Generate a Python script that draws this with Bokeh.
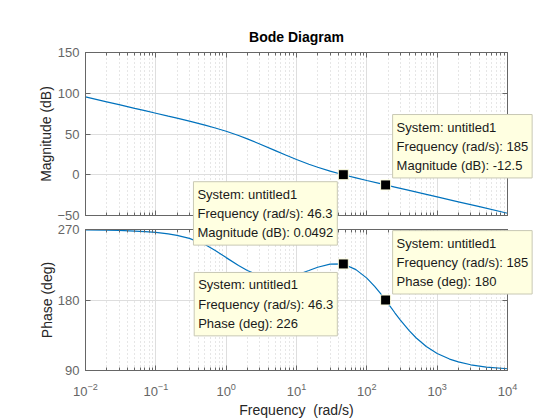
import math
from bokeh.plotting import figure
from bokeh.layouts import column
from bokeh.models import (LogAxis, LinearAxis, Label, FixedTicker, Range1d)
from bokeh.embed import file_html
from bokeh.resources import INLINE

# ---------------- data ----------------
freq_mag = [0.01, 0.02, 0.03, 0.05, 0.07, 0.1, 0.15, 0.2, 0.3, 0.5, 0.7, 1, 1.5, 2, 3, 5, 7,
            10, 15, 20, 30, 46.3, 70, 100, 150, 185, 250, 400, 700, 1000, 2000, 4000, 10000]
mag_db = [95.5, 89.5, 86.0, 81.5, 78.6, 75.5, 71.9, 69.4, 65.7, 60.9, 57.4, 53.4, 48.1, 44.0,
          37.8, 29.6, 24.2, 18.7, 12.9, 9.2, 4.5, 0.0492, -3.8, -7.1, -10.6, -12.5, -15.1,
          -19.2, -24.1, -27.2, -33.2, -39.2, -47.2]

freq_phase = [0.01, 0.02, 0.03, 0.05, 0.07, 0.1, 0.15, 0.2, 0.3, 0.5, 0.7, 1, 1.5, 2, 3, 5, 7,
              10, 15, 20, 30, 46.3, 70, 100, 130, 150, 185, 220, 250, 300, 400, 500, 700,
              1000, 1500, 2000, 3000, 5000, 10000]
phase_deg = [269.6, 269.2, 268.8, 268.0, 267.2, 266.3, 264.5, 262.5, 258.6, 250.8, 243.3,
             234.1, 224.0, 217.6, 210.9, 207.6, 208.5, 211.9, 217.6, 221.8, 225.8, 226.0,
             218.8, 207.9, 197.1, 190.3, 180.0, 170.5, 163.7, 154.4, 140.9, 131.8, 120.6,
             111.7, 104.6, 101.0, 97.3, 94.4, 92.2]

tip_freq = [46.3, 185]
tip_mag = [0.0492, -12.5]
tip_phase = [226, 180]
system_name = "untitled1"

x_range_lim = [1e-2, 1e4]
mag_range_lim = [-50, 150]
phase_range_lim = [90, 270]
x_ticks = [1e-2, 1e-1, 1e0, 1e1, 1e2, 1e3, 1e4]
mag_ticks = [-50, 0, 50, 100, 150]
phase_ticks = [90, 180, 270]

title_text = "Bode Diagram"
mag_label = "Magnitude (dB)"
phase_label = "Phase (deg)"
freq_label = "Frequency \u00a0(rad/s)"

# ---------------- style / layout ----------------
FONT = "Liberation Sans"
AXC = "#666666"
LBLC = "#262626"
LINEC = "#0072bd"
W, H = 560, 420
LEFT, RIGHT = 85, 53
MAG_TOP, MAG_BOT = 52, 205
PH_TOP, PH_BOT = 229, 48
minor_x = [m * 10.0 ** e for e in range(-2, 4) for m in range(2, 10)]


def make_fig(yr, top, bottom):
    return figure(width=W, height=H, x_axis_type="log", x_range=Range1d(*x_range_lim),
                  y_range=Range1d(*yr), output_backend="svg", toolbar_location=None,
                  min_border_left=LEFT, min_border_right=RIGHT, min_border_top=top,
                  min_border_bottom=bottom, outline_line_color=AXC,
                  background_fill_color="white", frame_align=False)


def style_axis(ax, show_labels, ticker, minor):
    ax.ticker = ticker
    ax.axis_line_color = AXC
    ax.major_tick_line_color = AXC
    ax.minor_tick_line_color = AXC if minor else None
    ax.major_tick_in = 5
    ax.major_tick_out = 0
    ax.minor_tick_in = 3
    ax.minor_tick_out = 0
    ax.major_label_text_font = FONT
    ax.major_label_text_color = AXC
    ax.major_label_text_font_size = "13px"
    ax.axis_label_text_font = FONT
    ax.axis_label_text_color = LBLC
    ax.axis_label_text_font_style = "normal"
    ax.axis_label_text_font_size = "14px"
    if not show_labels:
        ax.major_label_text_alpha = 0
        ax.major_label_standoff = 0


def build(p, yticks, ylabel, show_x_labels, xlabel):
    xt = FixedTicker(ticks=x_ticks, minor_ticks=minor_x)
    yt = FixedTicker(ticks=yticks, minor_ticks=[])
    style_axis(p.xaxis[0], show_x_labels, xt, True)
    style_axis(p.yaxis[0], True, yt, False)
    p.xaxis[0].major_label_standoff = 12 if show_x_labels else 0
    p.yaxis[0].major_label_standoff = 6
    p.yaxis[0].axis_label = ylabel
    p.yaxis[0].axis_label_standoff = 0
    if xlabel:
        p.xaxis[0].axis_label = xlabel
        p.xaxis[0].axis_label_standoff = 3
    top_ax = LogAxis()
    style_axis(top_ax, False, FixedTicker(ticks=x_ticks, minor_ticks=minor_x), True)
    p.add_layout(top_ax, "above")
    right_ax = LinearAxis()
    style_axis(right_ax, False, FixedTicker(ticks=yticks, minor_ticks=[]), False)
    p.add_layout(right_ax, "right")
    p.xgrid.ticker = xt
    p.ygrid.ticker = yt
    p.xgrid.grid_line_color = "#dedede"
    p.xgrid.minor_grid_line_color = "#cccccc"
    p.xgrid.minor_grid_line_dash = "1 3"
    p.ygrid.grid_line_color = "#dedede"


# ---------------- phase (bottom layer) ----------------
pp = make_fig(phase_range_lim, PH_TOP, PH_BOT)
pp.border_fill_color = "white"
build(pp, phase_ticks, phase_label, True, freq_label)
pp.line(freq_phase, phase_deg, line_color=LINEC, line_width=1.2)
pp.scatter(tip_freq, tip_phase, marker="square", size=10, fill_color="black",
           line_color="#ffffe1", line_width=1)

# ---------------- magnitude (middle layer, transparent border) ----------------
pm = make_fig(mag_range_lim, MAG_TOP, MAG_BOT)
pm.border_fill_alpha = 0
build(pm, mag_ticks, mag_label, False, None)
pm.title.text = title_text
pm.title.align = "center"
pm.title.text_font = FONT
pm.title.text_font_size = "14px"
pm.title.text_font_style = "bold"
pm.title.text_color = "black"
pm.title.standoff = 15
pm.line(freq_mag, mag_db, line_color=LINEC, line_width=1.2)
pm.scatter(tip_freq, tip_mag, marker="square", size=10, fill_color="black",
           line_color="#ffffe1", line_width=1)

# ---------------- data-tip layer (whole window is its frame, so no clipping) ----------------
decades = math.log10(x_range_lim[1] / x_range_lim[0])
ppd = (W - LEFT - RIGHT) / decades
ov_x = Range1d(x_range_lim[0] / 10 ** (LEFT / ppd), x_range_lim[1] * 10 ** (RIGHT / ppd))
k_mag = (H - MAG_TOP - MAG_BOT) / (mag_range_lim[1] - mag_range_lim[0])
ov_mag = Range1d(mag_range_lim[0] - MAG_BOT / k_mag, mag_range_lim[1] + MAG_TOP / k_mag)
k_ph = (H - PH_TOP - PH_BOT) / (phase_range_lim[1] - phase_range_lim[0])
ov_ph = Range1d(phase_range_lim[0] - PH_BOT / k_ph, phase_range_lim[1] + PH_TOP / k_ph)

po = figure(width=W, height=H, x_axis_type="log", x_range=ov_x, y_range=ov_mag,
            output_backend="svg", toolbar_location=None, min_border=0,
            x_axis_location=None, y_axis_location=None, outline_line_color=None,
            background_fill_alpha=0, border_fill_alpha=0, frame_align=False)
po.grid.visible = False
po.extra_y_ranges = {"phase": ov_ph}


def tip(x, y, lines, anchor, xo, yo, yname="default"):
    po.add_layout(Label(x=x, y=y, y_range_name=yname, text="\n".join(lines), anchor=anchor,
                        x_offset=xo, y_offset=yo, text_align="left",
                        text_font=FONT, text_font_size="13px", text_color="#1a1a1a",
                        text_line_height=1.28, padding=(4, 5),
                        background_fill_color="#ffffe1", border_line_color="#c8c8b4",
                        border_line_width=1))


for f, v, anc, xo, yo in zip(tip_freq, tip_mag, ["top_right", "bottom_left"], [-6, 7], [-7, 7]):
    tip(f, v, [f"System: {system_name}", f"Frequency (rad/s): {f:g}",
               f"Magnitude (dB): {v:g}"], anc, xo, yo)
for f, v, anc, xo, yo in zip(tip_freq, tip_phase, ["top_right", "bottom_left"], [-6, 7], [-8, 7]):
    tip(f, v, [f"System: {system_name}", f"Frequency (rad/s): {f:g}",
               f"Phase (deg): {v:g}"], anc, xo, yo, "phase")

pm.margin = (-H, 0, 0, 0)
po.margin = (-H, 0, 0, 0)
layout = column(pp, pm, po, spacing=0)

open("out.html", "w").write(file_html(layout, INLINE))
